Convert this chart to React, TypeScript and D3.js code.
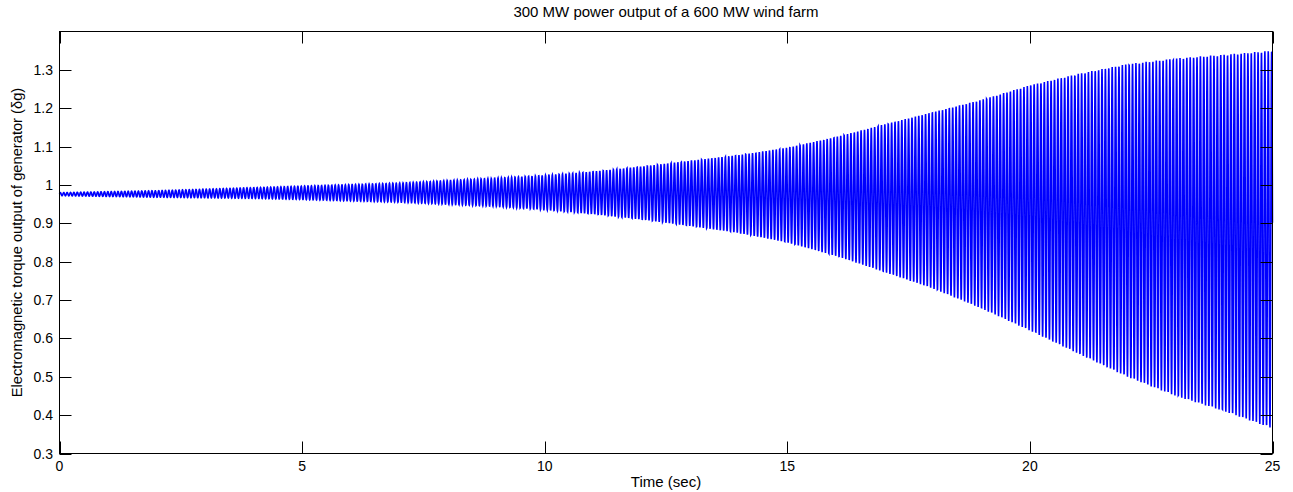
import React from "react";
import * as d3 from "d3";

// Envelope of the oscillation
const envTime = [0, 2, 4, 5, 7, 9, 10, 11, 12, 13, 14, 15, 16, 17, 18, 19, 20, 21, 22, 23, 24, 25];
const envUpper = [0.98, 0.985, 0.993, 0.997, 1.005, 1.018, 1.025, 1.035, 1.048, 1.063, 1.078, 1.097, 1.125, 1.158, 1.19, 1.222, 1.26, 1.29, 1.315, 1.33, 1.34, 1.35];
const envLower = [0.972, 0.968, 0.965, 0.962, 0.955, 0.944, 0.935, 0.924, 0.91, 0.893, 0.875, 0.85, 0.815, 0.773, 0.73, 0.678, 0.62, 0.56, 0.5, 0.45, 0.41, 0.365];
const oscFrequencyHz = 14.3;
const sampleStep = 0.003;

const xTicks = [0, 5, 10, 15, 20, 25];
const yTicks = [0.3, 0.4, 0.5, 0.6, 0.7, 0.8, 0.9, 1, 1.1, 1.2, 1.3];

const titleText = "300 MW power output of a 600 MW wind farm";
const xLabelText = "Time (sec)";
const yLabelText = "Electromagnetic torque output of generator (\u03B4g)";

const W = 1293;
const H = 492;
const FONT = "'Liberation Sans', Arial, sans-serif";

export default function App() {
  const x = d3.scaleLinear().domain([0, 25]).range([59.5, 1272.5]);
  const y = d3.scaleLinear().domain([0.3, 1.4]).range([453.5, 31.5]);
  const upAt = d3.scaleLinear().domain(envTime).range(envUpper);
  const loAt = d3.scaleLinear().domain(envTime).range(envLower);

  const pts: [number, number][] = [];
  const n = Math.round(25 / sampleStep);
  for (let i = 0; i <= n; i++) {
    const t = i * sampleStep;
    const u = upAt(t);
    const l = loAt(t);
    const c = (u + l) / 2;
    const a = (u - l) / 2;
    pts.push([t, c + a * Math.sin(2 * Math.PI * oscFrequencyHz * t)]);
  }
  const line = d3
    .line<[number, number]>()
    .x((d) => x(d[0]))
    .y((d) => y(d[1]));

  const [x0, x1] = x.range();
  const [yb, yt] = y.range();
  const tickLen = 12;

  return (
    <svg
      width={W}
      height={H}
      style={{ position: "absolute", left: 0, top: 0, background: "#fff" }}
      fontFamily={FONT}
    >
      <rect x={0} y={0} width={W} height={H} fill="#fff" />
      <path d={line(pts) || ""} fill="none" stroke="#0000ff" strokeWidth={1.6} />
      {/* axes box */}
      <rect x={x0} y={yt} width={x1 - x0} height={yb - yt} fill="none" stroke="#000" strokeWidth={1} />
      {/* x ticks */}
      {xTicks.map((v) => (
        <g key={"xt" + v}>
          <line x1={Math.round(x(v)) + 0.5} x2={Math.round(x(v)) + 0.5} y1={yb} y2={yb - tickLen} stroke="#000" />
          <line x1={Math.round(x(v)) + 0.5} x2={Math.round(x(v)) + 0.5} y1={yt} y2={yt + tickLen} stroke="#000" />
          <text x={x(v)} y={471} fontSize={14} textAnchor="middle" fill="#000">
            {v}
          </text>
        </g>
      ))}
      {/* y ticks */}
      {yTicks.map((v) => (
        <g key={"yt" + v}>
          <line x1={x0} x2={x0 + tickLen} y1={Math.round(y(v)) + 0.5} y2={Math.round(y(v)) + 0.5} stroke="#000" />
          <line x1={x1} x2={x1 - tickLen} y1={Math.round(y(v)) + 0.5} y2={Math.round(y(v)) + 0.5} stroke="#000" />
          <text x={53} y={y(v) + 5} fontSize={14} textAnchor="end" fill="#000">
            {String(v)}
          </text>
        </g>
      ))}
      <text x={(x0 + x1) / 2} y={17} fontSize={15} textAnchor="middle" fill="#000">
        {titleText}
      </text>
      <text x={(x0 + x1) / 2} y={487} fontSize={15} textAnchor="middle" fill="#000">
        {xLabelText}
      </text>
      <text
        transform={`translate(22,${(yb + yt) / 2}) rotate(-90)`}
        fontSize={14.7}
        textAnchor="middle"
        fill="#000"
      >
        {yLabelText}
      </text>
    </svg>
  );
}
